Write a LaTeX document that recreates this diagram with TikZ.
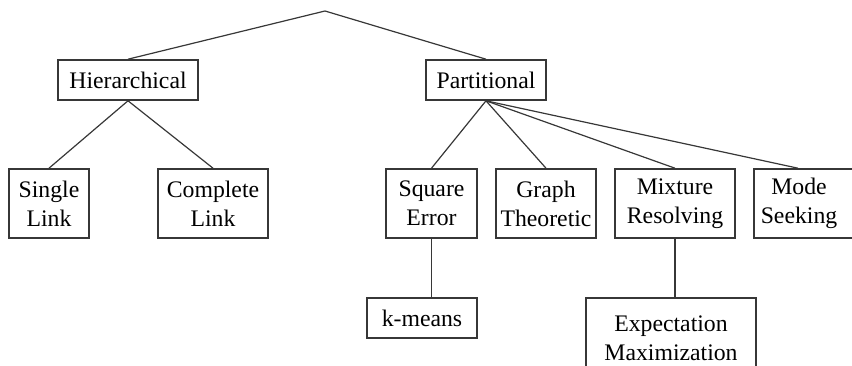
\documentclass[tikz,border=0pt]{standalone}
\usepackage{fontspec}
\setmainfont{Liberation Serif}
\usepackage{tikz}
\usepackage{xcolor}

\definecolor{edgegray}{RGB}{55,55,55}

\tikzset{
  catbox/.style={draw=edgegray, line width=1.2pt, inner sep=0pt, align=center,
    font=\fontsize{17.8}{21.75}\selectfont, text=black},
  branch/.style={draw=edgegray, line width=0.9pt}
}

\begin{document}
\begin{tikzpicture}[x=0.75pt,y=0.75pt,yscale=-1,xscale=1]
\useasboundingbox (0,0) rectangle (852,366);

%Top split point
\coordinate (root) at (325,11);

% Level 1
\node[catbox, minimum width=105pt, minimum height=30pt] (hier) at (128,80) {Hierarchical};
\node[catbox, minimum width=90pt, minimum height=30pt] (part) at (486,80) {Partitional};

% Level 2
\node[catbox, minimum width=60pt, minimum height=51.75pt] (single) at (49,203.5) {Single\\Link};
\node[catbox, minimum width=82.5pt, minimum height=51.75pt] (complete) at (213,203.5) {Complete\\Link};
\node[catbox, minimum width=68.25pt, minimum height=51.75pt] (square) at (431.5,203.5) {Square\\Error};
\node[catbox, minimum width=75pt, minimum height=51.75pt] (graph) at (546,203.5) {Graph\\Theoretic};
\node[catbox, minimum width=90pt, minimum height=51.75pt] (mixture) at (675,203.5) {Mixture\\Resolving};
% box runs past the right edge
\node[catbox, minimum width=90pt, minimum height=51.75pt] (mode) at (814,203.5) {Mode\hspace*{22.5pt}\\Seeking\hspace*{22.5pt}};

% Level 3
\node[catbox, minimum width=82.5pt, minimum height=30pt] (kmeans) at (422,318) {k-means};
\node[catbox, minimum width=127.5pt, minimum height=60pt] (em) at (671,338) {Expectation\\Maximization};

% Connectors
\draw[branch] (hier.north) -- (root) -- (part.north);
\draw[branch] (single.north) -- (hier.south) -- (complete.north);
\draw[branch] (part.south) -- (square.north);
\draw[branch] (part.south) -- (graph.north);
\draw[branch] (part.south) -- (mixture.north);
\draw[branch] (part.south) -- ([xshift=-12pt]mode.north);
\draw[branch] (square.south) -- (square.south |- kmeans.north);
\draw[branch] (mixture.south) -- (mixture.south |- em.north);

\end{tikzpicture}
\end{document}
